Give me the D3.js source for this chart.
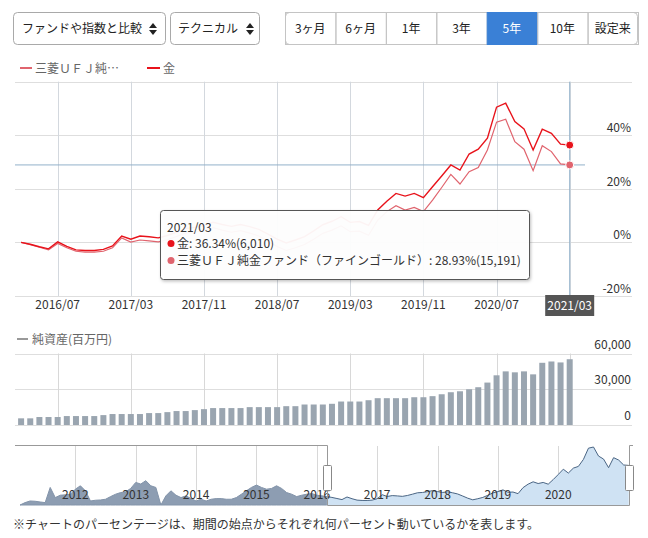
<!DOCTYPE html>
<html>
<head>
<meta charset="utf-8">
<script src="https://cdn.jsdelivr.net/npm/d3@7"></script>
<style>
body { margin: 0; background: #fff; }
svg { display: block; font-family: "Noto Sans CJK JP", "Noto Sans", sans-serif; }
</style>
</head>
<body>
<svg width="648" height="538"></svg>
<script>
// 月次データ 2016/03 - 2021/03
var months = d3.timeMonth.range(new Date(2016, 2, 1), new Date(2021, 3, 1));
var goldPct = [0, -0.7, -1.6, -2.4, 0.2, -1.5, -2.8, -3.0, -3.0, -2.6, -1.3, 2.4, 1.2, 2.4, 2.1, 1.7,
  2.6, 3.8, 5.2, 5.6, 6.4, 7.5, 6.7, 6.0, 6.7, 5.9, 4.9, 3.1, 1.2, -0.2, 0.9, 2.2, 4.3, 6.6, 7.9,
  9.6, 7.5, 7.8, 6.4, 12.1, 15.4, 18.3, 17.3, 18.3, 16.7, 20.8, 24.8, 28.9, 27.0, 33.0, 34.8, 38.9,
  50.5, 52.0, 45.1, 42.4, 34.5, 42.3, 40.7, 36.7, 36.34];
var fundPct = [0, -0.8, -1.8, -2.8, -0.4, -2.0, -3.3, -3.6, -3.6, -3.3, -2.0, 1.7, 0.1, 0.9, 0.6, 0.2,
  1.0, 2.2, 3.5, 3.8, 4.5, 5.5, 4.6, 3.8, 4.4, 3.5, 2.4, 0.5, -1.5, -3.0, -2.0, -0.8, 1.2, 3.4, 4.6,
  6.2, 4.0, 4.2, 2.7, 8.3, 11.5, 13.7, 12.1, 13.1, 11.5, 15.8, 20.5, 25.4, 21.8, 26.4, 28.0, 34.5,
  44.9, 46.0, 37.6, 34.8, 26.8, 36.1, 33.9, 29.3, 28.93];
var netAssets = [5600, 5600, 6700, 6700, 6700, 7500, 7500, 7500, 7500, 8300, 9200, 9200, 9200, 9200,
  10000, 10000, 10800, 11700, 11700, 12500, 13300, 14200, 14200, 14200, 14200, 15000, 15000, 15000,
  15000, 15800, 15800, 17200, 17200, 17200, 17800, 19700, 19700, 19700, 20800, 22500, 22500, 22500,
  22500, 23300, 23300, 24200, 25800, 27500, 28300, 30000, 31700, 35600, 41700, 45000, 44200, 45000,
  42500, 52200, 53300, 52500, 55200];
// 基準価額 2011/02 - 2016/02 (ナビゲーター)
var navOld = [10860, 11120, 11300, 11270, 11190, 11120, 12780, 11670, 11930, 11970, 12040, 12590,
  12960, 12410, 11300, 11380, 11410, 11490, 11780, 12040, 12220, 12300, 12670, 13330, 13150, 13520,
  12960, 12780, 10860, 11860, 12410, 11930, 11670, 11860, 11560, 11300, 11490, 11300, 11490, 11560,
  11560, 11490, 11490, 11670, 12040, 12410, 12780, 13040, 12780, 12590, 12670, 12960, 12670, 12220,
  12040, 11780, 11930, 12040, 12110, 11930, 11860];
var lastNav = 15191, lastGold = 6010;
var yTicks = [-20, 0, 20, 40, 60];
var barTicks = [0, 30000, 60000];
var navYears = [2012, 2013, 2014, 2015, 2016, 2017, 2018, 2019, 2020];
var buttons = ['3ヶ月', '6ヶ月', '1年', '3年', '5年', '10年', '設定来'];
var fundName = '三菱ＵＦＪ純金ファンド（ファインゴールド）';

var goldColor = '#e8131b', fundColor = '#e0646e', crossColor = '#93b2ca', gridColor = '#dedede';
var fmt = d3.timeFormat('%Y/%m');
var svg = d3.select('svg');

// 上部コントロール
function sortIcon(g, cx, cy) {
  g.append('path').attr('d', 'M' + (cx - 4) + ',' + (cy - 1) + 'L' + (cx + 4) + ',' + (cy - 1) + 'L' + cx + ',' + (cy - 6) + 'Z').attr('fill', '#222');
  g.append('path').attr('d', 'M' + (cx - 4) + ',' + (cy + 1) + 'L' + (cx + 4) + ',' + (cy + 1) + 'L' + cx + ',' + (cy + 6) + 'Z').attr('fill', '#222');
}
var ctrl = svg.append('g');
ctrl.append('rect').attr('x', 13.5).attr('y', 12.5).attr('width', 152).attr('height', 32).attr('rx', 4)
  .attr('fill', '#fff').attr('stroke', '#a9a9a9');
ctrl.append('text').attr('x', 22).attr('y', 33).attr('font-size', 12).attr('fill', '#222').text('ファンドや指数と比較');
sortIcon(ctrl, 153, 29);
ctrl.append('rect').attr('x', 170.5).attr('y', 12.5).attr('width', 89).attr('height', 32).attr('rx', 4)
  .attr('fill', '#fff').attr('stroke', '#a9a9a9');
ctrl.append('text').attr('x', 178).attr('y', 33).attr('font-size', 12).attr('fill', '#222').text('テクニカル');
sortIcon(ctrl, 250, 29);

var bx = d3.scaleBand().domain(buttons).range([285, 638]);
ctrl.append('rect').attr('x', 285.5).attr('y', 12.5).attr('width', 352).attr('height', 32).attr('rx', 4)
  .attr('fill', '#fff').attr('stroke', '#c4c4c4');
ctrl.selectAll('.btn').data(buttons).enter().append('rect')
  .attr('x', function (d) { return bx(d) + 0.5; })
  .attr('y', 12.5)
  .attr('width', bx.bandwidth())
  .attr('height', 32)
  .attr('fill', function (d) { return d == '5年' ? '#3a80d6' : 'none'; })
  .attr('stroke', function (d) { return d == '5年' ? '#3a80d6' : '#c4c4c4'; });
ctrl.selectAll('.btnt').data(buttons).enter().append('text')
  .attr('x', function (d) { return bx(d) + bx.bandwidth() / 2; })
  .attr('y', 33)
  .attr('text-anchor', 'middle')
  .attr('font-size', 12)
  .attr('fill', function (d) { return d == '5年' ? '#fff' : '#222'; })
  .text(function (d) { return d; });

// 凡例
var lg = svg.append('g');
lg.append('line').attr('x1', 20).attr('x2', 32).attr('y1', 68).attr('y2', 68).attr('stroke', fundColor).attr('stroke-width', 2);
lg.append('text').attr('x', 35).attr('y', 72.5).attr('font-size', 12).attr('fill', '#666').text('三菱ＵＦＪ純…');
lg.append('line').attr('x1', 147).attr('x2', 160).attr('y1', 68).attr('y2', 68).attr('stroke', goldColor).attr('stroke-width', 2);
lg.append('text').attr('x', 163).attr('y', 72.5).attr('font-size', 12).attr('fill', '#666').text('金');

// メインチャート
var x = d3.scaleLinear().domain([0, months.length - 1]).range([21.1, 569.7]);
var y = d3.scaleLinear().domain([-20, 60]).range([296, 81.7]);
var gridIdx = d3.range(4, months.length, 8);
var g = svg.append('g');
g.selectAll('.hg').data(yTicks).enter().append('line')
  .attr('x1', 15).attr('x2', 632)
  .attr('y1', function (d) { return Math.round(y(d)) + 0.5; })
  .attr('y2', function (d) { return Math.round(y(d)) + 0.5; })
  .attr('stroke', gridColor);
g.selectAll('.vg').data(gridIdx).enter().append('line')
  .attr('x1', function (d) { return Math.round(x(d)) + 0.5; })
  .attr('x2', function (d) { return Math.round(x(d)) + 0.5; })
  .attr('y1', y(60)).attr('y2', y(-20))
  .attr('stroke', '#d3d8de');
g.selectAll('.yl').data(yTicks.filter(function (d) { return d < 60; })).enter().append('text')
  .attr('x', 631).attr('y', function (d) { return y(d) - 3; })
  .attr('text-anchor', 'end').attr('font-size', 12).attr('fill', '#333')
  .text(function (d) { return d + '%'; });
g.selectAll('.xl').data(gridIdx.filter(function (d) { return d < months.length - 1; })).enter().append('text')
  .attr('x', function (d) { return x(d); }).attr('y', 309)
  .attr('text-anchor', 'middle').attr('font-size', 12).attr('fill', '#333')
  .text(function (d) { return fmt(months[d]); });

// クロスヘア
var last = months.length - 1;
g.append('line').attr('x1', x(last)).attr('x2', x(last)).attr('y1', y(60)).attr('y2', 296).attr('stroke', crossColor);
g.append('line').attr('x1', 15).attr('x2', 585).attr('y1', y(fundPct[last])).attr('y2', y(fundPct[last])).attr('stroke', crossColor);

var line = d3.line().x(function (d, i) { return x(i); }).y(function (d) { return y(d); });
g.append('path').attr('d', line(fundPct)).attr('fill', 'none').attr('stroke', fundColor).attr('stroke-width', 1.2);
g.append('path').attr('d', line(goldPct)).attr('fill', 'none').attr('stroke', goldColor).attr('stroke-width', 1.4);
g.append('circle').attr('cx', x(last)).attr('cy', y(fundPct[last])).attr('r', 4).attr('fill', fundColor).attr('stroke', '#fff');
g.append('circle').attr('cx', x(last)).attr('cy', y(goldPct[last])).attr('r', 4).attr('fill', goldColor).attr('stroke', '#fff');

// x軸ラベル（選択中）
g.append('rect').attr('x', x(last) - 24.5).attr('y', 295).attr('width', 49).attr('height', 21).attr('fill', '#555');
g.append('text').attr('x', x(last)).attr('y', 309.5).attr('text-anchor', 'middle').attr('font-size', 12).attr('fill', '#fff')
  .text(fmt(months[last]));

// ツールチップ
var defs = svg.append('defs');
var f = defs.append('filter').attr('id', 'sh').attr('x', '-10%').attr('y', '-20%').attr('width', '120%').attr('height', '150%');
f.append('feDropShadow').attr('dx', 1).attr('dy', 1.5).attr('stdDeviation', 1.5).attr('flood-color', '#000').attr('flood-opacity', 0.25);
var tt = svg.append('g').attr('transform', 'translate(160,210)');
tt.append('rect').attr('x', 0.5).attr('y', 0.5).attr('width', 369).attr('height', 69).attr('rx', 3)
  .attr('fill', '#fff').attr('fill-opacity', 0.94).attr('stroke', '#555').attr('filter', 'url(#sh)');
tt.append('text').attr('x', 7).attr('y', 22).attr('font-size', 12).attr('fill', '#333').text(fmt(months[last]));
tt.append('circle').attr('cx', 11).attr('cy', 33.5).attr('r', 3.5).attr('fill', goldColor);
tt.append('text').attr('x', 17).attr('y', 38).attr('font-size', 12).attr('fill', '#333')
  .text('金: ' + goldPct[last].toFixed(2) + '%(' + d3.format(',')(lastGold) + ')');
tt.append('circle').attr('cx', 11).attr('cy', 50.5).attr('r', 3.5).attr('fill', fundColor);
tt.append('text').attr('x', 17).attr('y', 55).attr('font-size', 12).attr('fill', '#333')
  .text(fundName + ': ' + fundPct[last].toFixed(2) + '%(' + d3.format(',')(lastNav) + ')');

// 純資産
var yb = d3.scaleLinear().domain([0, 60000]).range([425, 353.5]);
var gb = svg.append('g');
gb.append('line').attr('x1', 17).attr('x2', 28).attr('y1', 339).attr('y2', 339).attr('stroke', '#999').attr('stroke-width', 2);
gb.append('text').attr('x', 32).attr('y', 343.5).attr('font-size', 12).attr('fill', '#666').text('純資産(百万円)');
gb.selectAll('.hg').data(barTicks).enter().append('line')
  .attr('x1', 15).attr('x2', 632)
  .attr('y1', function (d) { return Math.round(yb(d)) + 0.5; })
  .attr('y2', function (d) { return Math.round(yb(d)) + 0.5; })
  .attr('stroke', gridColor);
gb.selectAll('.vg').data(gridIdx).enter().append('line')
  .attr('x1', function (d) { return Math.round(x(d)) + 0.5; })
  .attr('x2', function (d) { return Math.round(x(d)) + 0.5; })
  .attr('y1', yb(60000)).attr('y2', yb(0))
  .attr('stroke', '#d8d8d8');
gb.selectAll('.yl').data(barTicks).enter().append('text')
  .attr('x', 631).attr('y', function (d) { return yb(d) - 5; })
  .attr('text-anchor', 'end').attr('font-size', 12).attr('fill', '#333')
  .text(function (d) { return d3.format(',')(d); });
gb.selectAll('.bar').data(netAssets).enter().append('rect')
  .attr('x', function (d, i) { return x(i) - 3; })
  .attr('y', function (d) { return yb(d); })
  .attr('width', 6)
  .attr('height', function (d) { return yb(0) - yb(d); })
  .attr('fill', '#9aa5b0');

// ナビゲーター (2011/01 = 0)
var baseNav = lastNav / (1 + fundPct[last] / 100);
var navNew = fundPct.map(function (d) { return baseNav * (1 + d / 100); });
var startM = 1, selM = 62;
var xn = d3.scaleLinear().domain([0, 122]).range([15, 628.7]);
var allNav = navOld.concat(navNew);
var yn = d3.scaleLinear().domain([d3.min(allNav), d3.max(allNav)]).range([505, 447]);
var gn = svg.append('g');
gn.selectAll('.vg').data(navYears).enter().append('line')
  .attr('x1', function (d) { return Math.round(xn((d - 2011) * 12)) + 0.5; })
  .attr('x2', function (d) { return Math.round(xn((d - 2011) * 12)) + 0.5; })
  .attr('y1', 446).attr('y2', 505)
  .attr('stroke', '#d8d8d8');
var oldPts = navOld.concat([navNew[0]]);
var area = d3.area().y0(505);
gn.append('path')
  .attr('d', area.x(function (d, i) { return xn(startM + i); }).y1(function (d) { return yn(d); })(oldPts))
  .attr('fill', '#8d9db2').attr('stroke', '#8394aa');
gn.append('path')
  .attr('d', area.x(function (d, i) { return xn(selM + i); }).y1(function (d) { return yn(d); })(navNew))
  .attr('fill', '#cfe2f3');
gn.append('path')
  .attr('d', d3.line().x(function (d, i) { return xn(selM + i); }).y(function (d) { return yn(d); })(navNew))
  .attr('fill', 'none').attr('stroke', '#4a6584').attr('stroke-width', 1);
gn.selectAll('.yr').data(navYears).enter().append('text')
  .attr('x', function (d) { return xn((d - 2011) * 12); }).attr('y', 499)
  .attr('text-anchor', 'middle').attr('font-size', 12).attr('fill', '#333')
  .text(function (d) { return d; });
var x0 = Math.round(xn(selM)) + 0.5, x1 = Math.round(xn(122)) + 0.5;
gn.append('path')
  .attr('d', 'M15,445.5H' + x0 + 'V505.5H' + x1 + 'V445.5H633')
  .attr('fill', 'none').attr('stroke', '#999');
[x0, x1].forEach(function (hx) {
  gn.append('rect').attr('x', hx - 4).attr('y', 465.5).attr('width', 8).attr('height', 25).attr('rx', 1)
    .attr('fill', '#fff').attr('stroke', '#888');
});

// 注記
svg.append('text').attr('x', 13).attr('y', 529).attr('font-size', 12).attr('fill', '#333')
  .text('※チャートのパーセンテージは、期間の始点からそれぞれ何パーセント動いているかを表します。');
</script>
</body>
</html>
